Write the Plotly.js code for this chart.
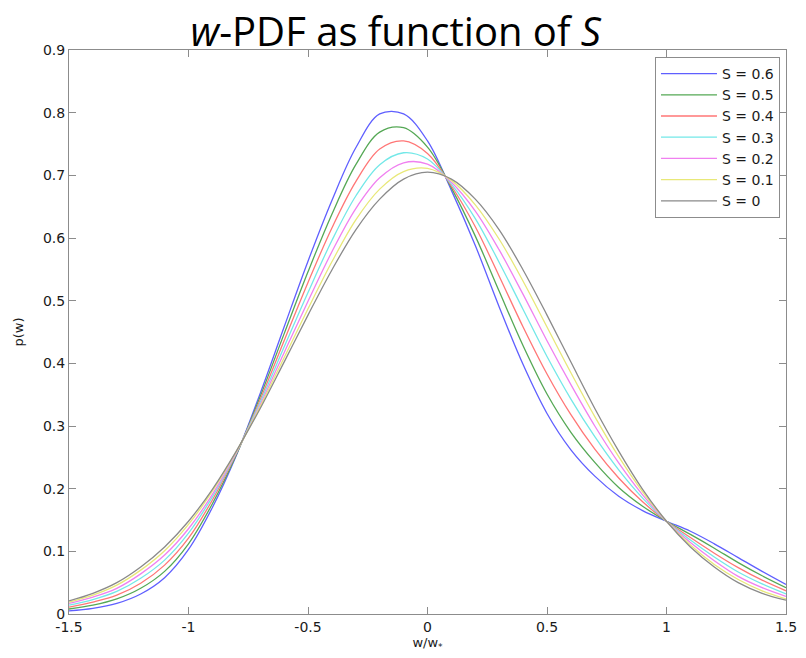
<!DOCTYPE html>
<html>
<head>
<meta charset="utf-8">
<script src="https://cdn.plot.ly/plotly-3.0.1.min.js"></script>
<style>body{margin:0;padding:0;background:#fff;}#chart{width:806px;height:658px;}</style>
</head>
<body>
<div id="chart"></div>
<script>
const xVals = [-1.5,-1.4,-1.3,-1.2,-1.1,-1.0,-0.9,-0.8,-0.7,-0.6,-0.5,-0.4,-0.3,-0.2,-0.1,0.0,0.1,0.2,0.3,0.4,0.5,0.6,0.7,0.8,0.9,1.0,1.1,1.2,1.3,1.4,1.5];
const seriesNames = ['S = 0.6','S = 0.5','S = 0.4','S = 0.3','S = 0.2','S = 0.1','S = 0'];
const pS06 = [0.005,0.009,0.017,0.032,0.058,0.103,0.170,0.253,0.352,0.458,0.563,0.660,0.744,0.798,0.798,0.755,0.676,0.588,0.490,0.398,0.320,0.262,0.220,0.188,0.165,0.148,0.132,0.112,0.090,0.068,0.047];
const pS05 = [0.008,0.014,0.024,0.041,0.068,0.112,0.176,0.254,0.347,0.447,0.546,0.638,0.717,0.769,0.776,0.745,0.680,0.603,0.515,0.428,0.351,0.290,0.242,0.202,0.172,0.148,0.127,0.105,0.082,0.061,0.042];
const pS04 = [0.011,0.019,0.030,0.049,0.078,0.121,0.182,0.256,0.342,0.436,0.529,0.616,0.690,0.742,0.755,0.735,0.683,0.618,0.539,0.458,0.383,0.318,0.263,0.217,0.179,0.148,0.122,0.097,0.074,0.054,0.037];
const pS03 = [0.014,0.023,0.036,0.057,0.086,0.129,0.187,0.257,0.338,0.426,0.513,0.596,0.667,0.717,0.736,0.726,0.686,0.631,0.561,0.486,0.411,0.343,0.283,0.230,0.185,0.148,0.118,0.091,0.067,0.048,0.032];
const pS02 = [0.017,0.027,0.041,0.064,0.094,0.136,0.191,0.258,0.334,0.417,0.499,0.578,0.647,0.696,0.720,0.718,0.689,0.643,0.581,0.510,0.436,0.366,0.300,0.241,0.190,0.148,0.114,0.085,0.060,0.042,0.028];
const pS01 = [0.019,0.030,0.046,0.070,0.101,0.143,0.196,0.259,0.331,0.409,0.487,0.562,0.629,0.678,0.706,0.711,0.692,0.653,0.598,0.531,0.458,0.385,0.315,0.251,0.195,0.148,0.110,0.079,0.055,0.037,0.024];
const pS00 = [0.021,0.033,0.050,0.075,0.107,0.148,0.199,0.260,0.328,0.402,0.477,0.549,0.613,0.662,0.694,0.705,0.694,0.662,0.613,0.549,0.477,0.402,0.328,0.260,0.199,0.148,0.107,0.075,0.050,0.033,0.022];
const xTickVals = [-1.5,-1,-0.5,0,0.5,1,1.5];
const xTickText = ['-1.5','-1','-0.5','0','0.5','1','1.5'];
const yTickVals = [0,0.1,0.2,0.3,0.4,0.5,0.6,0.7,0.8,0.9];
const yTickText = ['0','0.1','0.2','0.3','0.4','0.5','0.6','0.7','0.8','0.9'];

const allSeries = [pS06,pS05,pS04,pS03,pS02,pS01,pS00];
const colors = ['rgb(95,95,255)','rgb(85,168,85)','rgb(255,118,118)','rgb(115,232,232)','rgb(240,128,240)','rgb(232,232,120)','rgb(138,138,138)'];

const traces = allSeries.map((ys,i)=>({
  x: xVals, y: ys, name: seriesNames[i], type:'scatter', mode:'lines',
  line:{color:colors[i], width:1.3, shape:'spline', smoothing:1}
}));

const tickFont = {family:'DejaVu Sans, sans-serif', size:14, color:'#1a1a1a'};
const axisCommon = {
  showline:true, linecolor:'#8c8c8c', linewidth:1, mirror:'ticks',
  ticks:'inside', ticklen:7, tickcolor:'#8c8c8c', tickwidth:1,
  showgrid:false, zeroline:false, tickfont:tickFont
};

const layout = {
  width:806, height:658,
  margin:{l:69, r:20, t:50, b:44},
  paper_bgcolor:'#fff', plot_bgcolor:'#fff',
  title:{text:'<i>w</i>-PDF as function of <i>S</i>', font:{family:'Open Sans, Noto Sans, sans-serif', size:40, color:'#000'},
    x:0.491, xref:'container', y:0.951, yref:'container', xanchor:'center', yanchor:'middle'},
  xaxis:Object.assign({}, axisCommon, {range:[-1.5,1.5], tickvals:xTickVals, ticktext:xTickText,
    title:{text:'w/w<sub>*</sub>', font:{family:'DejaVu Sans, sans-serif', size:13, color:'#1a1a1a'}, standoff:3}}),
  yaxis:Object.assign({}, axisCommon, {range:[0,0.9], tickvals:yTickVals, ticktext:yTickText,
    title:{text:'p(w)', font:{family:'DejaVu Sans, sans-serif', size:13, color:'#1a1a1a'}, standoff:16}}),
  showlegend:true,
  legend:{x:0.9916, y:0.9876, xanchor:'right', yanchor:'top', bgcolor:'#fff', bordercolor:'#8c8c8c', borderwidth:1,
    font:{family:'DejaVu Sans, sans-serif', size:14, color:'#1a1a1a'}, itemwidth:56, tracegroupgap:0}
};

Plotly.newPlot('chart', traces, layout, {displayModeBar:false, staticPlot:true});
</script>
</body>
</html>
